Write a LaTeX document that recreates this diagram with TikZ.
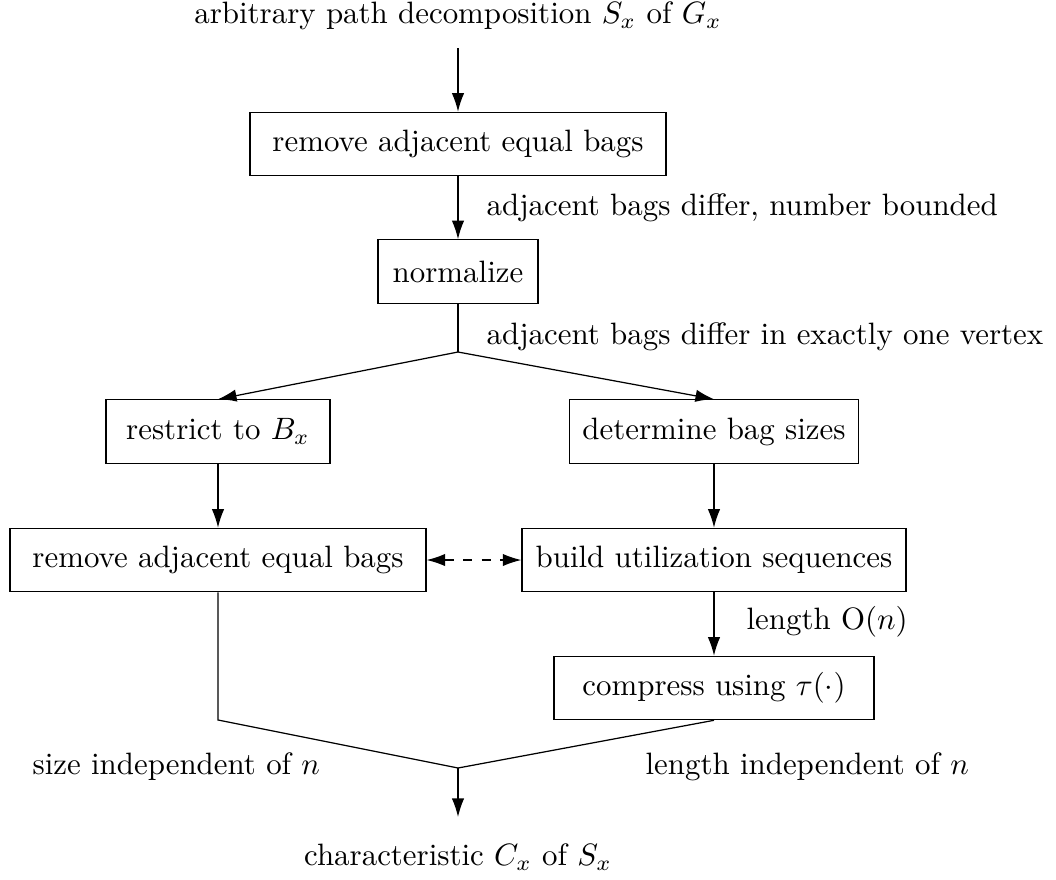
\documentclass[tikz,border=0pt]{standalone}
\usetikzlibrary{arrows.meta}
\begin{document}
\begin{tikzpicture}[x=0.3236pt,y=-0.3236pt,
  box/.style={draw,line width=0.4pt,inner sep=0pt,minimum height=20.5pt,font=\fontsize{10}{12}\selectfont},
  lbl/.style={inner sep=0pt,font=\fontsize{10}{12}\selectfont},
  arr/.style={-{Latex[length=6pt,width=4pt]},line width=0.4pt},
  ln/.style={line width=0.4pt}]
\useasboundingbox (0,0) rectangle (1056,879);
\node[lbl] (top) at (458,16) {arbitrary path decomposition $S_x$ of $G_x$};
\coordinate (c0) at (458,48);
\node[box,minimum width=134.6pt] (b1) at (458,144) {remove adjacent equal bags};
\node[lbl,anchor=west] (l1) at (486,208) {adjacent bags differ, number bounded};
\node[box,minimum width=51.8pt] (norm) at (458,271.5) {normalize};
\coordinate (v1) at (458,352);
\node[lbl,anchor=west] (l2) at (486,337) {adjacent bags differ in exactly one vertex};
\node[box,minimum width=72.5pt] (res) at (218,431.5) {restrict to $B_x$};
\node[box,minimum width=93.5pt] (det) at (714,431.5) {determine bag sizes};
\node[box,minimum width=134.6pt] (b2) at (218,560) {remove adjacent equal bags};
\node[box,minimum width=124.3pt] (build) at (714,560) {build utilization sequences};
\node[lbl,anchor=west] (l3) at (746,622) {length $\mathrm{O}(n)$};
\node[box,minimum width=103.6pt] (comp) at (714,688) {compress using $\tau(\cdot)$};
\coordinate (c2) at (218,720);
\coordinate (v2) at (458,768);
\node[lbl,anchor=west] (l4) at (32,767) {size independent of $n$};
\node[lbl,anchor=west] (l5) at (645,767) {length independent of $n$};
\node[lbl] (out) at (458,857) {characteristic $C_x$ of $S_x$};
\coordinate (c3) at (458,817);

\draw[arr] (c0) -- (b1.north);
\draw[arr] (b1.south) -- (norm.north);
\draw[ln] (norm.south) -- (v1);
\draw[arr] (v1) -- (res.north);
\draw[arr] (v1) -- (det.north);
\draw[arr] (res.south) -- (b2.north);
\draw[arr] (det.south) -- (build.north);
\draw[arr] (build.south) -- (comp.north);
\draw[{Latex[length=6pt,width=4pt]}-{Latex[length=6pt,width=4pt]},dashed,line width=0.4pt] (b2.east) -- (build.west);
\draw[ln] (b2.south) -- (c2) -- (v2) -- (comp.south);
\draw[arr] (v2) -- (c3);
\end{tikzpicture}
\end{document}
